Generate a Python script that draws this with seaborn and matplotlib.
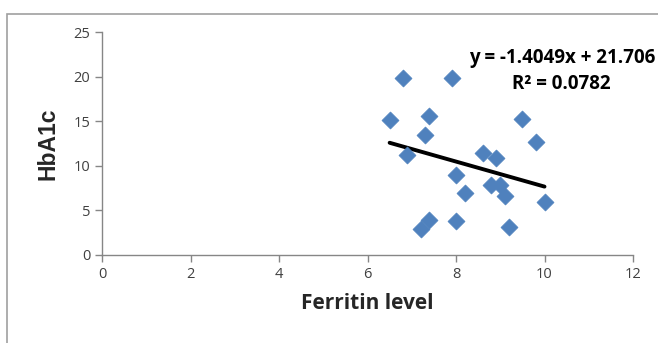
import matplotlib
matplotlib.use("Agg")
import matplotlib.pyplot as plt
import seaborn as sns
import pandas as pd
import numpy as np
from matplotlib.patches import Rectangle

ferritin = [6.5, 6.8, 6.9, 7.2, 7.3, 7.4, 7.4, 7.9, 8.0, 8.0,
            8.2, 8.6, 8.8, 8.9, 9.0, 9.1, 9.2, 9.5, 9.8, 10.0]
hba1c = [15.1, 19.8, 11.2, 2.9, 13.5, 15.6, 3.9, 19.8, 9.0, 3.8,
         7.0, 11.4, 7.8, 10.9, 7.9, 6.6, 3.1, 15.3, 12.7, 5.9]
x_ticks = [0, 2, 4, 6, 8, 10, 12]
y_ticks = [0, 5, 10, 15, 20, 25]
equation = "y = -1.4049x + 21.706"
r2_text = "R² = 0.0782"

df = pd.DataFrame({"Ferritin level": ferritin, "HbA1c": hba1c})

sns.set_theme(style="white")
plt.rcParams['font.family'] = ['Open Sans', 'DejaVu Sans']

fig = plt.figure(figsize=(6.58, 3.43), dpi=100)
ax = fig.add_axes([102/658, 1-255/343, (633-102)/658, (255-32)/343])

sns.scatterplot(data=df, x="Ferritin level", y="HbA1c", marker="D", s=75,
                color="#4F81BD", edgecolor="#4F81BD", linewidth=0.5, ax=ax, zorder=3)
sns.regplot(data=df, x="Ferritin level", y="HbA1c", scatter=False, ci=None,
            color="black", line_kws={"linewidth": 2.8}, ax=ax)

ax.set_xlim(0, 12)
ax.set_ylim(0, 25)
ax.set_xticks(x_ticks)
ax.set_yticks(y_ticks)
for s in ["top", "right"]:
    ax.spines[s].set_visible(False)
for s in ["left", "bottom"]:
    ax.spines[s].set_color("#868686")
    ax.spines[s].set_linewidth(1)
ax.tick_params(axis="both", direction="out", length=5, width=1, color="#868686",
               labelsize=10.5, labelcolor="#404040", left=True, bottom=True)
ax.set_xlabel("Ferritin level", fontsize=15, fontweight="bold", labelpad=8)
ax.set_ylabel("HbA1c", fontsize=16.5, fontweight="bold", labelpad=10,
              family=["Liberation Sans", "DejaVu Sans"])

ax.text(655/658, 1-58/343, equation, transform=fig.transFigure, ha="right", va="center",
        fontsize=13.5, fontweight="bold", color="black")
ax.text(561/658, 1-84/343, r2_text, transform=fig.transFigure, ha="center", va="center",
        fontsize=13.5, fontweight="bold", color="black")

fig.patches.append(Rectangle((7/658, -0.1), 1.2, 1-14/343+0.1, transform=fig.transFigure,
                             fill=False, edgecolor="#A0A0A0", linewidth=1.2))

fig.savefig("out.png", dpi=100)
